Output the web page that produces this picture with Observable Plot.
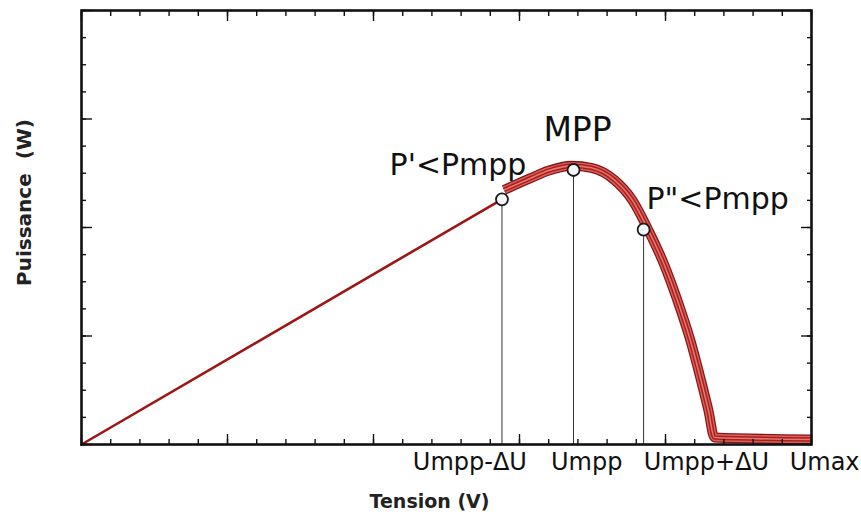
<!DOCTYPE html>
<html><head><meta charset="utf-8">
<script src="https://cdn.jsdelivr.net/npm/d3@7"></script>
<script src="https://cdn.jsdelivr.net/npm/@observablehq/plot@0.6"></script>
<style>body{margin:0;background:#fff}</style>
</head><body><div id="chart"></div>
<script>
// Linear (thin) part of the P(U) curve
const rampU = [0, 2.88];
const rampP = [0, 2.26];
// Thick band part of the P(U) curve, around the MPP
const bandU = [2.894, 3.08, 3.196, 3.361, 3.491, 3.649, 3.772, 3.889, 3.992, 4.081, 4.17, 4.243, 4.294, 4.335, 5.0];
const bandP = [2.346, 2.457, 2.522, 2.568, 2.55, 2.439, 2.254, 1.958, 1.654, 1.33, 0.961, 0.591, 0.314, 0.065, 0.046];
// Marked operating points
const pointNames = ["P'<Pmpp", "MPP", "P\"<Pmpp"];
const pointU = [2.88, 3.37, 3.85];
const pointP = [2.26, 2.53, 1.98];
// Voltage labels under the axis
const uTickLabels = ["Umpp-ΔU", "Umpp", "Umpp+ΔU", "Umax"];
const uTickLabelPos = [2.66, 3.46, 4.28, 5.09];
// Axis ticks
const xMajor = [0, 1, 2, 3, 4, 5];
const xMinor = d3.range(0, 5.001, 0.2);
const yMajor = [0, 1, 2, 3, 4];
const yMinor = d3.range(0, 4.001, 0.25);

const ramp = rampU.map((u, i) => ({u, p: rampP[i]}));
const band = bandU.map((u, i) => ({u, p: bandP[i]}));
const points = pointNames.map((name, i) => ({name, u: pointU[i], p: pointP[i]}));
const uLabels = uTickLabels.map((t, i) => ({t, u: uTickLabelPos[i]}));

const FONT = "'DejaVu Sans', 'Liberation Sans', Arial, sans-serif";
const axisStyle = {tickFormat: () => "", stroke: "#111", strokeWidth: 1.4, label: null};
const bandLayer = (stroke, strokeWidth) =>
  Plot.line(band, {x: "u", y: "p", stroke, strokeWidth, curve: "monotone-x", strokeLinejoin: "miter", strokeLinecap: "butt"});

const chart = Plot.plot({
  width: 861, height: 515,
  marginLeft: 81, marginRight: 50, marginTop: 10, marginBottom: 71,
  x: {domain: [0, 5], axis: null},
  y: {domain: [0, 4], axis: null},
  style: {fontFamily: FONT, background: "white", overflow: "visible"},
  marks: [
    Plot.ruleX(points, {x: "u", y1: 0, y2: "p", stroke: "#333", strokeWidth: 1}),
    Plot.line(ramp, {x: "u", y: "p", stroke: "#9e1515", strokeWidth: 2.6}),
    bandLayer("#861616", 10),
    bandLayer("#d9625a", 7.4),
    bandLayer("#a91f1f", 4.6),
    bandLayer("#e4776e", 1.6),
    Plot.dot(points, {x: "u", y: "p", r: 6, fill: "#f3f7fa", stroke: "#1a1a1a", strokeWidth: 1.8}),
    Plot.text(points.filter(d => d.name === "P'<Pmpp"), {x: "u", y: "p", text: "name", dx: -44, dy: -34, fontSize: 30, fill: "#111"}),
    Plot.text(points.filter(d => d.name === "MPP"), {x: "u", y: "p", text: "name", dx: 4, dy: -40, fontSize: 33, fill: "#111"}),
    Plot.text(points.filter(d => d.name === "P\"<Pmpp"), {x: "u", y: "p", text: "name", dx: 74, dy: -30, fontSize: 30, fill: "#111"}),
    Plot.text(uLabels, {x: "u", text: "t", frameAnchor: "bottom", lineAnchor: "middle", dy: 18, fontSize: 24, fill: "#111"}),
    Plot.text(["Tension (V)"], {frameAnchor: "bottom", lineAnchor: "middle", textAnchor: "middle", dx: -17, dy: 57, fontSize: 19, fontWeight: "bold", fill: "#222"}),
    Plot.text(["Puissance  (W)"], {frameAnchor: "left", textAnchor: "middle", lineAnchor: "middle", dx: -57, dy: -25, rotate: -90, fontSize: 20, fontWeight: "bold", fill: "#222"}),
    Plot.axisX(xMinor, {anchor: "bottom", tickSize: -5, ...axisStyle}),
    Plot.axisX(xMajor, {anchor: "bottom", tickSize: -10, ...axisStyle}),
    Plot.axisX(xMinor, {anchor: "top", tickSize: -5, ...axisStyle}),
    Plot.axisX(xMajor, {anchor: "top", tickSize: -10, ...axisStyle}),
    Plot.axisY(yMinor, {anchor: "left", tickSize: -5, ...axisStyle}),
    Plot.axisY(yMajor, {anchor: "left", tickSize: -11, ...axisStyle}),
    Plot.axisY(yMinor, {anchor: "right", tickSize: -5, ...axisStyle}),
    Plot.axisY(yMajor, {anchor: "right", tickSize: -11, ...axisStyle}),
    Plot.frame({stroke: "#111", strokeWidth: 2.6})
  ]
});
document.getElementById("chart").append(chart);
</script>
</body></html>
